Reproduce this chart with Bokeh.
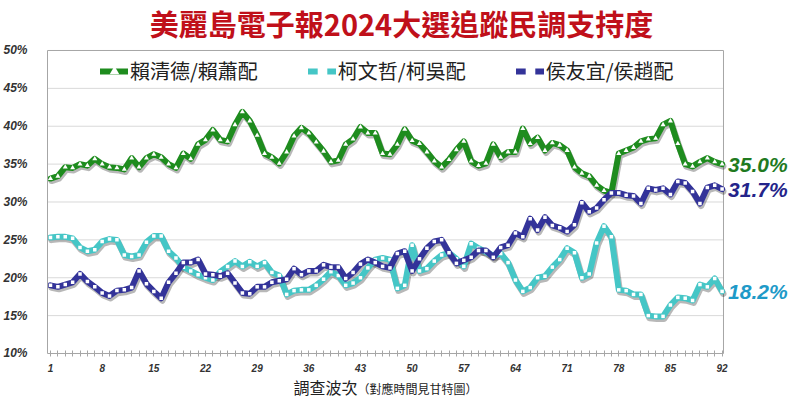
from bokeh.plotting import figure
from bokeh.models import (Range1d, FixedTicker, PrintfTickFormatter, Legend, LegendItem,
                          Label, LinearAxis)
from bokeh.embed import file_html
from bokeh.resources import INLINE

rounds = list(range(1, 93))

lai = [33.1, 33.4, 34.6, 34.5, 35.0, 34.8, 35.7, 35.0, 34.6, 34.5,
       34.3, 35.8, 34.6, 35.8, 36.3, 35.9, 35.0, 34.5, 36.4, 35.7,
       37.6, 38.2, 39.5, 38.2, 38.0, 40.2, 41.9, 40.7, 38.8, 36.4,
       35.9, 35.1, 36.6, 38.7, 39.8, 39.1, 37.9, 36.7, 35.3, 35.5,
       37.6, 38.3, 39.9, 39.1, 39.1, 36.4, 36.3, 37.6, 39.6, 38.1,
       37.7, 36.6, 35.4, 34.6, 35.6, 36.9, 38.0, 35.4, 34.8, 35.1,
       37.6, 35.9, 36.6, 36.6, 39.7, 37.7, 38.5, 36.8, 37.8, 37.5,
       36.8, 34.6, 33.8, 33.4, 32.2, 31.5, 31.2, 36.4, 36.8, 37.2,
       38.0, 38.3, 38.4, 40.2, 40.7, 37.7, 35.0, 34.7, 35.3, 35.8,
       35.3, 35.0]

ko = [25.3, 25.4, 25.4, 25.2, 24.0, 23.5, 23.7, 24.8, 25.1, 25.0,
      23.0, 22.8, 23.0, 24.7, 25.5, 25.5, 23.5, 22.6, 21.4, 20.9,
      20.4, 20.0, 19.7, 20.8, 21.5, 22.2, 21.5, 22.1, 21.5, 22.0,
      20.7, 20.3, 17.8, 18.3, 18.4, 18.4, 19.0, 19.8, 20.8, 20.3,
      19.0, 19.3, 20.0, 21.3, 22.4, 22.6, 22.4, 18.6, 19.0, 24.3,
      20.9, 21.2, 22.2, 23.0, 23.3, 22.5, 21.5, 24.5, 23.9, 23.4,
      22.9, 23.2, 22.0, 19.7, 18.2, 18.7, 20.0, 20.2, 21.4, 22.4,
      23.9, 23.3, 20.0, 20.5, 24.6, 26.8, 25.4, 18.4, 18.3, 17.8,
      17.8, 15.0, 14.9, 14.9, 16.4, 17.4, 17.3, 17.0, 19.1, 18.8,
      19.9, 18.2]

hou = [19.0, 18.8, 19.1, 19.4, 20.5, 19.5, 18.8, 18.0, 17.6, 18.3,
       18.4, 18.7, 20.9, 19.2, 18.2, 17.3, 19.4, 20.6, 22.0, 22.0,
       22.4, 20.5, 20.4, 20.2, 20.6, 19.3, 18.0, 17.9, 18.8, 18.8,
       19.4, 19.6, 19.8, 21.2, 20.4, 20.9, 20.9, 21.7, 21.4, 21.4,
       19.9, 20.7, 21.8, 22.4, 22.0, 21.5, 21.3, 23.2, 23.5, 20.9,
       22.5, 23.9, 24.8, 25.0, 23.3, 21.9, 22.3, 22.7, 23.6, 23.6,
       22.7, 24.0, 24.3, 25.9, 25.4, 27.8, 26.3, 28.0, 26.9, 26.6,
       26.1, 27.0, 29.9, 28.7, 29.2, 30.3, 31.2, 31.2, 30.9, 30.8,
       29.8, 31.8, 31.6, 31.8, 31.0, 32.7, 32.5, 31.4, 29.8, 31.9,
       32.2, 31.7]

series_names = ["賴清德/賴蕭配", "柯文哲/柯吳配", "侯友宜/侯趙配"]
x_labels = [1, 8, 15, 22, 29, 36, 43, 50, 57, 64, 71, 78, 85, 92]
y_ticks = [10, 15, 20, 25, 30, 35, 40, 45, 50]

title_text = "美麗島電子報2024大選追蹤民調支持度"
xlab_main = "調查波次"
xlab_sub = "（對應時間見甘特圖）"

CJK = "Noto Sans CJK TC"
NUM = "Liberation Sans"

# plot box (in data units) inside a frame that spans the whole canvas
X_LO, X_HI = 0.593, 92.19
Y_LO, Y_HI = 10, 50

W, H = 792, 402
p = figure(width=W, height=H, output_backend="svg", toolbar_location=None,
           x_axis_type=None, y_axis_type=None,
           x_range=Range1d(-5.775, 101.54), y_range=Range1d(3.531, 56.60),
           min_border=0, background_fill_color="white", border_fill_color="white")
p.outline_line_color = None
p.xgrid.visible = False
p.ygrid.visible = False

# grid lines and plot box border
grid_ys = [t for t in y_ticks if Y_LO < t < Y_HI]
p.segment(x0=[X_LO] * len(grid_ys), x1=[X_HI] * len(grid_ys), y0=grid_ys, y1=grid_ys,
          line_color="#D9D9D9", line_width=1)
p.segment(x0=[X_LO, X_HI], x1=[X_HI, X_HI], y0=[Y_HI, Y_LO], y1=[Y_HI, Y_HI],
          line_color="#A6A6A6", line_width=1)

# y axis
yaxis = LinearAxis(fixed_location=X_LO, bounds=(Y_LO, Y_HI),
                   ticker=FixedTicker(ticks=y_ticks),
                   formatter=PrintfTickFormatter(format="%d%%"))
yaxis.major_tick_line_color = None
yaxis.minor_tick_line_color = None
yaxis.axis_line_color = "#A6A6A6"
yaxis.major_label_text_font = NUM
yaxis.major_label_text_font_style = "bold italic"
yaxis.major_label_text_font_size = "12px"
yaxis.major_label_text_color = "#333333"
yaxis.major_label_standoff = 14
p.add_layout(yaxis, "left")

# x axis
xaxis = LinearAxis(fixed_location=Y_LO, bounds=(X_LO, X_HI),
                   ticker=FixedTicker(ticks=rounds))
xaxis.major_label_overrides = {r: (str(r) if r in x_labels else "") for r in rounds}
xaxis.major_tick_in = 3
xaxis.major_tick_out = 3
xaxis.major_tick_line_color = "#A6A6A6"
xaxis.minor_tick_line_color = None
xaxis.axis_line_color = "#A6A6A6"
xaxis.major_label_text_font = NUM
xaxis.major_label_text_font_style = "bold italic"
xaxis.major_label_text_font_size = "10px"
xaxis.major_label_text_color = "#333333"
xaxis.major_label_standoff = 8
p.add_layout(xaxis, "below")

colors = ["#1E8C1E", "#45C6C6", "#333399"]
label_colors = ["#1F7A1F", "#1E9AC8", "#24248A"]
markers = ["triangle", "square", "square"]
msizes = [5, 3.5, 3.5]
data = [lai, ko, hou]

for ys in data:
    sx = [x + 0.15 for x in rounds]
    sy = [y - 0.3 for y in ys]
    p.line(sx, sy, line_color="black", line_alpha=0.28, line_width=6.5,
           line_join="round", line_cap="round")

items = []
for name, ys, c, m, ms, lc in zip(series_names, data, colors, markers, msizes, label_colors):
    r1 = p.line(rounds, ys, line_color=c, line_width=6, line_join="round", line_cap="round")
    r2 = p.scatter(rounds, ys, marker=m, size=ms, fill_color="white", line_color=None)
    items.append(LegendItem(label=name, renderers=[r1, r2]))
    p.add_layout(Label(x=rounds[-1], y=ys[-1], text=f"{ys[-1]:.1f}%", x_offset=6,
                       text_baseline="middle", text_align="left", text_color=lc,
                       text_font=NUM, text_font_style="bold italic", text_font_size="21px"))

legend = Legend(items=items, location=(100, H - 85), orientation="horizontal",
                glyph_width=28, glyph_height=24, label_height=24, label_standoff=2,
                spacing=50, padding=0, margin=0,
                border_line_color=None, background_fill_alpha=0,
                label_text_font=CJK, label_text_font_size="20px", label_text_color="#222222")
p.add_layout(legend, "center")

# title and x axis title (screen units from the frame's bottom-left)
p.add_layout(Label(x=401, y=H - 22, x_units="screen", y_units="screen", text=title_text,
                   text_align="center", text_baseline="middle", text_color="#C0101A",
                   text_font=CJK, text_font_style="bold", text_font_size="29px"))
p.add_layout(Label(x=293, y=H - 386, x_units="screen", y_units="screen", text=xlab_main,
                   text_align="left", text_baseline="middle", text_color="#222222",
                   text_font=CJK, text_font_size="16px"))
p.add_layout(Label(x=357, y=H - 388, x_units="screen", y_units="screen", text=xlab_sub,
                   text_align="left", text_baseline="middle", text_color="#222222",
                   text_font=CJK, text_font_size="12px"))

open("out.html", "w").write(file_html(p, INLINE))
